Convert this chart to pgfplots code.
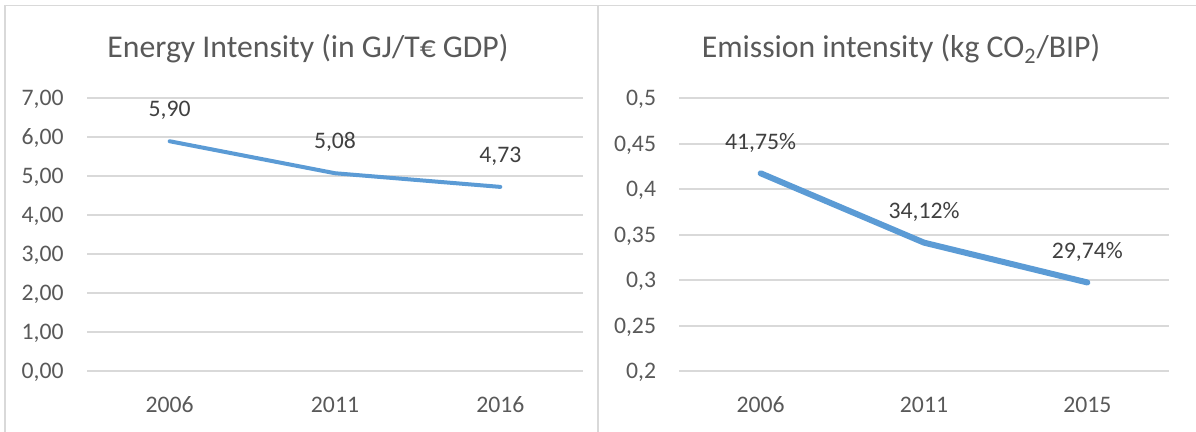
\documentclass[border=0pt]{standalone}
\usepackage{fontspec}
\setmainfont{Carlito}
\usepackage{pgfplots}
\usepackage{pgfplotstable}
\pgfplotsset{compat=1.18}
\definecolor{linecol}{HTML}{5B9BD5}
\definecolor{gridcol}{HTML}{D9D9D9}
\definecolor{txtcol}{HTML}{595959}
\definecolor{lblcol}{HTML}{404040}

\pgfplotstableread{
x y label
1 5.90 5,90
2 5.08 5,08
3 4.73 4,73
}\energy

\pgfplotstableread{
x y label
1 0.4175 41,75\%
2 0.3412 34,12\%
3 0.2974 29,74\%
}\emission

\pgfplotsset{
  mystyle/.style={
    scale only axis,
    anchor=south west,
    xmin=0.5, xmax=3.5,
    xtick={1,2,3},
    axis line style={draw=none},
    major tick length=0pt,
    ymajorgrids,
    grid style={color=gridcol, line width=1pt},
    tick label style={font=\fontsize{11.85}{14}\selectfont, color=txtcol, inner sep=0pt},
    xticklabel style={anchor=base, yshift=-20.75pt},
    clip=false,
    point meta=explicit symbolic,
    nodes near coords,
    every node near coord/.append style={anchor=base, inner sep=0pt, font=\fontsize{11.85}{14}\selectfont, color=lblcol},
  }
}

\begin{document}
\begin{tikzpicture}[x=1pt,y=1pt]
\useasboundingbox (0,0) rectangle (598,216);
\draw[color=gridcol, line width=0.9pt] (2.5,-10) -- (2.5,213.25) -- (610,213.25);
\draw[color=gridcol, line width=0.9pt] (299,-10) -- (299,213.25);

\begin{axis}[mystyle,
  at={(43.5pt,30.25pt)},
  width=248pt, height=136.6pt,
  ymin=0, ymax=7,
  ytick={0,1,2,3,4,5,6,7},
  yticklabels={{0,00},{1,00},{2,00},{3,00},{4,00},{5,00},{6,00},{7,00}},
  yticklabel style={anchor=base east, xshift=-11.5pt, yshift=-3.75pt},
  xticklabels={2006,2011,2016},
  every node near coord/.append style={yshift=12.25pt},
]
\addplot[color=linecol, line width=2pt, line cap=round, line join=round, mark=none]
  table[x=x, y=y, meta=label] {\energy};
\end{axis}

\begin{axis}[mystyle,
  at={(339.5pt,30.5pt)},
  width=245pt, height=136.35pt,
  ymin=0.2, ymax=0.5,
  ytick={0.2,0.25,0.3,0.35,0.4,0.45,0.5},
  yticklabels={{0,2},{0,25},{0,3},{0,35},{0,4},{0,45},{0,5}},
  yticklabel style={anchor=base east, xshift=-11.3pt, yshift=-3.75pt},
  xticklabels={2006,2011,2015},
  every node near coord/.append style={yshift=11.9pt},
]
\addplot[color=linecol, line width=3pt, line cap=round, line join=round, mark=none]
  table[x=x, y=y, meta=label] {\emission};
\end{axis}

\node[anchor=base, inner sep=0pt, font=\fontsize{15.85}{19}\selectfont, color=txtcol] at (154,187) {Energy Intensity (in GJ/T€ GDP)};
\node[anchor=base, inner sep=0pt, font=\fontsize{15.85}{19}\selectfont, color=txtcol] at (450.5,187) {Emission intensity (kg CO\textsubscript{2}/BIP)};
\end{tikzpicture}
\end{document}
